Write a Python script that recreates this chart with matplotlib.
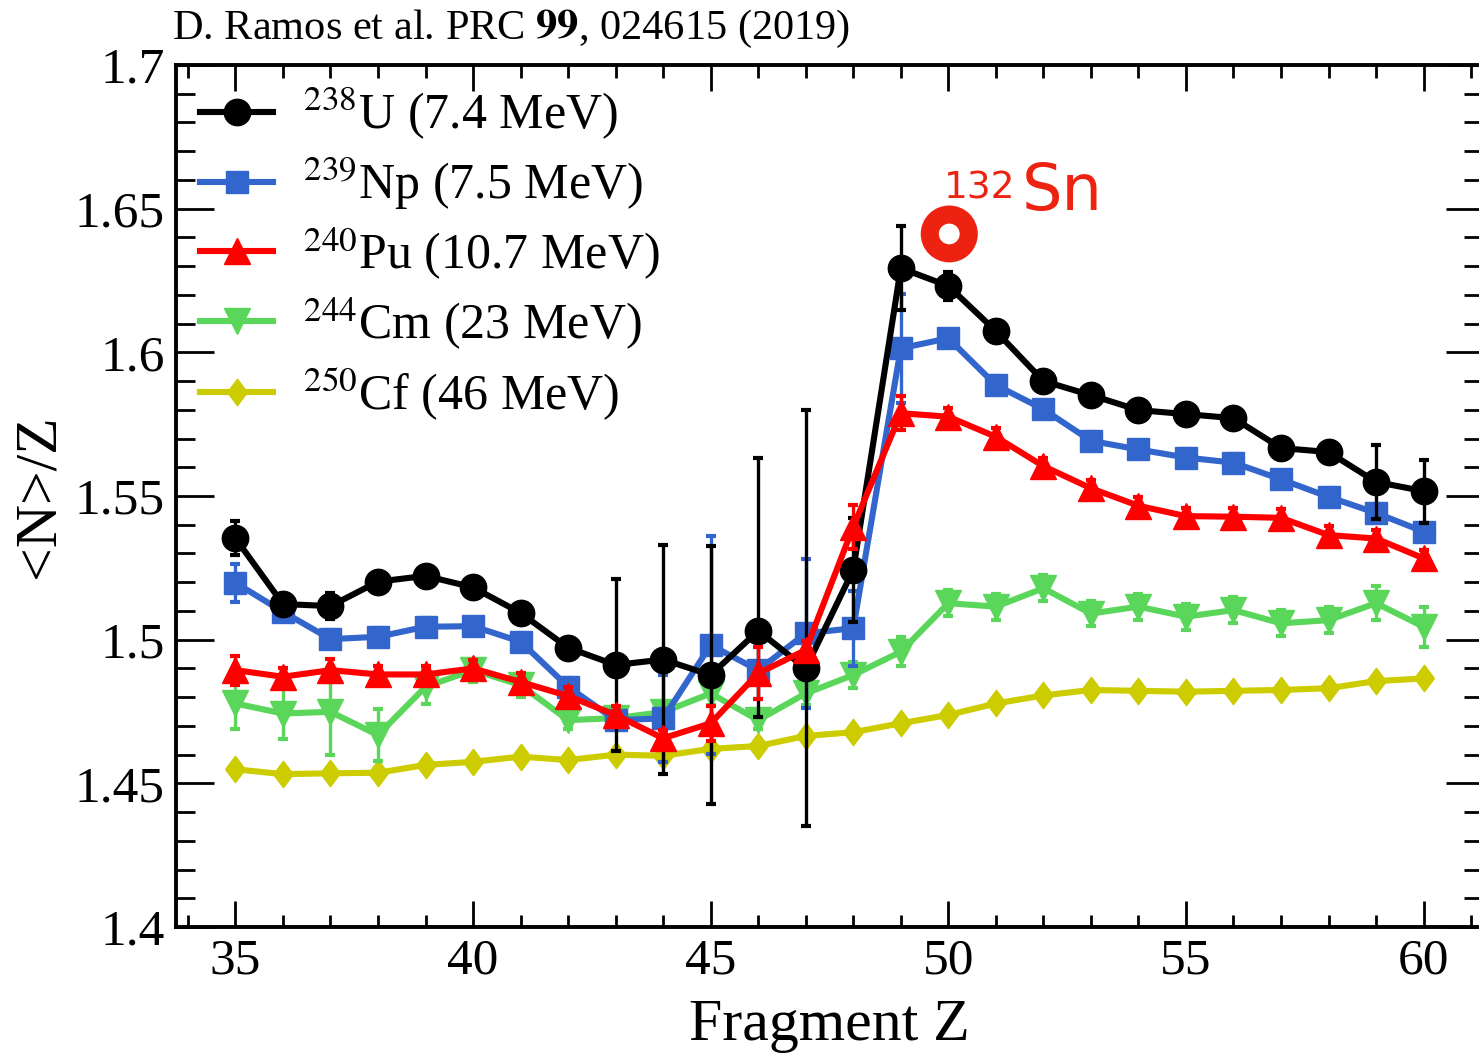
import matplotlib
matplotlib.use("Agg")
import matplotlib.pyplot as plt
from matplotlib.patches import Ellipse
from matplotlib.ticker import MultipleLocator

plt.rcParams["font.family"] = ["Liberation Serif", "DejaVu Serif"]
plt.rcParams["mathtext.fontset"] = "stix"

frag_z = list(range(35, 61))

# <N>/Z per system, with (lower, upper) uncertainties
u238 = [1.5353, 1.5124, 1.5117, 1.5202, 1.5222, 1.5182, 1.5093, 1.4972, 1.4912,
        1.4931, 1.4877, 1.5031, 1.4900, 1.5243, 1.6293, 1.6231, 1.6074, 1.5900,
        1.5851, 1.5799, 1.5785, 1.5771, 1.5667, 1.5653, 1.5549, 1.5517]
u238_lo = [0.006, 0.003, 0.0046, 0.003, 0.003, 0.003, 0.003, 0.003, 0.030,
           0.040, 0.045, 0.030, 0.055, 0.018, 0.0147, 0.005, 0.003, 0.003,
           0.003, 0.003, 0.003, 0.003, 0.003, 0.003, 0.013, 0.011]
u238_hi = [0.006, 0.003, 0.0046, 0.003, 0.003, 0.003, 0.003, 0.003, 0.030,
           0.040, 0.045, 0.060, 0.090, 0.018, 0.0147, 0.005, 0.003, 0.003,
           0.003, 0.003, 0.003, 0.003, 0.003, 0.003, 0.013, 0.011]

np239 = [1.5198, 1.5097, 1.5002, 1.5010, 1.5045, 1.5047, 1.4993, 1.4836, 1.4720,
         1.4726, 1.4981, 1.4894, 1.5022, 1.5040, 1.6014, 1.6049, 1.5886, 1.5802,
         1.5692, 1.5662, 1.5634, 1.5616, 1.5558, 1.5497, 1.5441, 1.5376]
np239_err = [0.0067, 0.003, 0.003, 0.003, 0.003, 0.003, 0.003, 0.003, 0.003,
             0.015, 0.038, 0.010, 0.026, 0.013, 0.019, 0.003, 0.003, 0.003,
             0.003, 0.003, 0.003, 0.003, 0.003, 0.003, 0.003, 0.003]

pu240 = [1.4894, 1.4871, 1.4894, 1.4879, 1.4879, 1.4900, 1.4853, 1.4804, 1.4738,
         1.4657, 1.4709, 1.4883, 1.4964, 1.5393, 1.5788, 1.5776, 1.5706, 1.5604,
         1.5527, 1.5466, 1.5430, 1.5428, 1.5424, 1.5364, 1.5352, 1.5283]
pu240_err = [0.005, 0.003, 0.004, 0.003, 0.003, 0.003, 0.003, 0.003, 0.003,
             0.003, 0.006, 0.009, 0.003, 0.0076, 0.006, 0.003, 0.003, 0.003,
             0.003, 0.003, 0.003, 0.003, 0.003, 0.003, 0.003, 0.003]

cm244 = [1.4778, 1.4743, 1.4749, 1.4668, 1.4836, 1.4894, 1.4842, 1.4720, 1.4727,
         1.4748, 1.4813, 1.4720, 1.4813, 1.4877, 1.4958, 1.5127, 1.5115, 1.5179,
         1.5091, 1.5115, 1.5080, 1.5103, 1.5057, 1.5068, 1.5127, 1.5045]
cm244_err = [0.009, 0.009, 0.015, 0.009, 0.006, 0.004, 0.004, 0.003, 0.003,
             0.003, 0.004, 0.003, 0.004, 0.0045, 0.005, 0.0045, 0.0045, 0.0045,
             0.0045, 0.0045, 0.0045, 0.0045, 0.0045, 0.0045, 0.006, 0.007]

cf250 = [1.4549, 1.4532, 1.4535, 1.4537, 1.4564, 1.4575, 1.4593, 1.4581, 1.4600,
         1.4596, 1.4620, 1.4630, 1.4665, 1.4678, 1.4709, 1.4738, 1.4778, 1.4806,
         1.4825, 1.4822, 1.4819, 1.4822, 1.4825, 1.4831, 1.4856, 1.4865]

labels = [r"$^{238}$U (7.4 MeV)", r"$^{239}$Np (7.5 MeV)", r"$^{240}$Pu (10.7 MeV)",
          r"$^{244}$Cm (23 MeV)", r"$^{250}$Cf (46 MeV)"]

diamond = [(-0.75, 0), (0, 1), (0.75, 0), (0, -1), (-0.75, 0)]

fig = plt.figure(figsize=(14.79, 10.55), dpi=100)
ax = fig.add_axes([0.119, 0.1213, 0.8837, 0.8171])

# draw order: Cf, Cm, Np, U, Pu
series = [
    (cf250, None, "#cccc00", diamond, 19, 4),
    (cm244, cm244_err, "#5ad65a", "v", 19, 3),
    (np239, np239_err, "#3366cc", "s", 16, 1),
    (u238, [u238_lo, u238_hi], "#000000", "o", 19, 0),
    (pu240, pu240_err, "#ff0000", "^", 19, 2),
]
handles = [None] * 5
for vals, err, col, mk, ms, idx in series:
    if err is not None:
        ax.errorbar(frag_z, vals, yerr=err, fmt="none", ecolor=col,
                    elinewidth=2.4, capsize=3.5, capthick=3)
    (ln,) = ax.plot(frag_z, vals, color=col, lw=4.4, marker=mk, ms=ms,
                    label=labels[idx])
    handles[idx] = ln

ax.set_xlim(33.75, 61.25)
ax.set_ylim(1.4, 1.7)
ax.xaxis.set_major_locator(MultipleLocator(5))
ax.xaxis.set_minor_locator(MultipleLocator(1))
ax.yaxis.set_minor_locator(MultipleLocator(0.01))
ax.set_yticks([1.4, 1.45, 1.5, 1.55, 1.6, 1.65, 1.7])
ax.set_yticklabels(["1.4", "1.45", "1.5", "1.55", "1.6", "1.65", "1.7"])

ax.tick_params(axis="both", which="both", direction="in", top=True, right=True,
               width=2, labelsize=37)
ax.tick_params(axis="x", which="major", length=19, pad=8)
ax.tick_params(axis="x", which="minor", length=9)
ax.tick_params(axis="y", which="major", length=27, pad=8)
ax.tick_params(axis="y", which="minor", length=14)
for sp in ax.spines.values():
    sp.set_linewidth(2.8)

ax.set_xlabel("Fragment Z", fontsize=43, labelpad=10)
ax.set_ylabel("<N>/Z", fontsize=43, labelpad=6)

ax.legend(handles=handles, loc="upper left", bbox_to_anchor=(-0.012, 1.022),
          frameon=False, fontsize=36, handlelength=1.45, handletextpad=0.6,
          labelspacing=0.27, borderaxespad=0.4)

# 132Sn marker near Z = 50
ax.add_patch(Ellipse((50.02, 1.6412), 0.82, 0.0135, fill=False,
                     edgecolor="#ee2211", lw=13, zorder=5))
ax.text(49.9, 1.6535, "132", color="#ee2211", fontsize=27,
        family="DejaVu Sans", ha="left", va="baseline")
ax.text(51.55, 1.6495, "Sn", color="#ee2211", fontsize=46,
        family="DejaVu Sans", ha="left", va="baseline")

fig.text(0.116, 0.963, r"D. Ramos et al. PRC $\mathbf{99}$, 024615 (2019)",
         fontsize=30.5, ha="left", va="baseline")

fig.savefig("out.png", dpi=100)
